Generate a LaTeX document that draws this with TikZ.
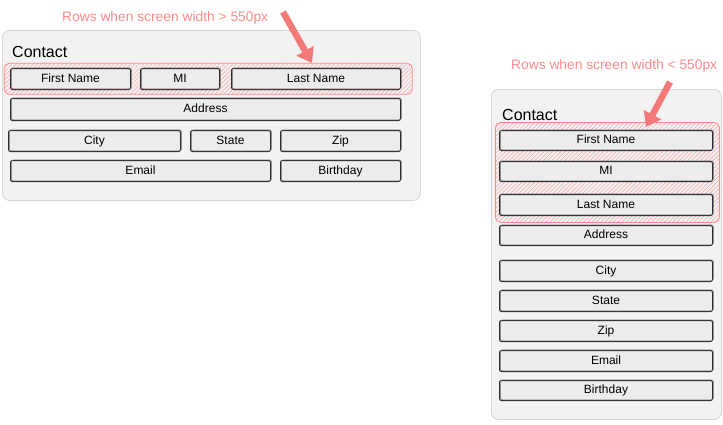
\documentclass[tikz,border=0pt]{standalone}
\usepackage{fontspec}
\setmainfont{Liberation Sans}
\usetikzlibrary{patterns.meta,arrows.meta}
\definecolor{panelfill}{HTML}{F2F2F2}
\definecolor{panelline}{HTML}{D6D6D6}
\definecolor{fieldfill}{HTML}{ECECEC}
\definecolor{fieldline}{HTML}{2E2E2E}
\definecolor{hlred}{HTML}{FF8A8A}
\definecolor{arrred}{HTML}{F47A7A}
\tikzset{
  panel/.style={draw=panelline, fill=panelfill, rounded corners=7pt, line width=0.8pt},
  field/.style={draw=fieldline, fill=fieldfill, rounded corners=2pt, line width=1pt, inner sep=0pt,
    text height=8.6pt, text depth=2.4pt, font=\fontsize{12}{14}\selectfont,
    postaction={draw=fieldline!70, line width=0.5pt, transform canvas={shift={(0.9pt,0.7pt)}}}},
  hilite/.style={draw=hlred, rounded corners=5pt, line width=0.8pt,
    pattern={Lines[angle=45,distance=3pt,line width=0.5pt]}, pattern color=hlred!80},
  titletext/.style={anchor=base west, inner sep=0pt, font=\fontsize{16}{18}\selectfont},
  notetext/.style={anchor=base west, inner sep=0pt, text=hlred, font=\fontsize{13.8}{16}\selectfont},
  bigarrow/.style={draw=arrred, line width=6.5pt, -{Triangle[width=19pt,length=14pt]}}
}
\begin{document}
\begin{tikzpicture}[x=1pt,y=-1pt]
\useasboundingbox (0,0) rectangle (723,424);
% ---------- left panel ----------
\node[panel, minimum width=418pt, minimum height=170pt, anchor=north west, inner sep=0pt] (lp) at (2,30) {};
\node[titletext] (lt) at (12,57) {Contact};
\node[hilite, minimum width=408pt, minimum height=31pt, anchor=north west] (lh) at (4,63) {};
\node[field, minimum width=120pt, minimum height=21pt, anchor=north west] (lfn) at (10,68) {First Name};
\node[field, minimum width=79pt, minimum height=21pt, anchor=north west] (lmi) at (140,68) {MI};
\node[field, minimum width=169pt, minimum height=21pt, anchor=north west] (lln) at (231,68) {Last Name};
\node[field, minimum width=390pt, minimum height=22pt, anchor=north west] (lad) at (10,98) {Address};
\node[field, minimum width=172pt, minimum height=21pt, anchor=north west] (lci) at (8,130) {City};
\node[field, minimum width=80pt, minimum height=21pt, anchor=north west] (lst) at (190,130) {State};
\node[field, minimum width=120pt, minimum height=21pt, anchor=north west] (lzi) at (280,130) {Zip};
\node[field, minimum width=260pt, minimum height=21pt, anchor=north west] (lem) at (10,160) {Email};
\node[field, minimum width=120pt, minimum height=21pt, anchor=north west] (lbi) at (280,160) {Birthday};
\node[notetext] (ln) at (62,21) {Rows when screen width > 550px};
\coordinate (la0) at (283,12);
\coordinate (la1) at (312,63);
\draw[bigarrow] (la0) -- (la1);
% ---------- right panel ----------
\node[panel, minimum width=230pt, minimum height=330pt, anchor=north west, inner sep=0pt] (rp) at (491,89) {};
\node[titletext] (rt) at (502,120) {Contact};
\node[hilite, minimum width=224pt, minimum height=100pt, anchor=north west] (rh) at (495,122) {};
\node[field, minimum width=213pt, minimum height=20pt, anchor=north west] (rfn) at (499,130) {First Name};
\node[field, minimum width=213pt, minimum height=20pt, anchor=north west] (rmi) at (499,161) {MI};
\node[field, minimum width=213pt, minimum height=21pt, anchor=north west] (rln) at (499,194) {Last Name};
\node[field, minimum width=213pt, minimum height=20pt, anchor=north west] (rad) at (499,225) {Address};
\node[field, minimum width=213pt, minimum height=21pt, anchor=north west] (rci) at (499,260) {City};
\node[field, minimum width=213pt, minimum height=21pt, anchor=north west] (rst) at (499,290) {State};
\node[field, minimum width=213pt, minimum height=21pt, anchor=north west] (rzi) at (499,320) {Zip};
\node[field, minimum width=213pt, minimum height=21pt, anchor=north west] (rem) at (499,350) {Email};
\node[field, minimum width=213pt, minimum height=20pt, anchor=north west] (rbi) at (499,380) {Birthday};
\node[notetext] (rn) at (511,69) {Rows when screen width < 550px};
\coordinate (ra0) at (670,82);
\coordinate (ra1) at (646,127);
\draw[bigarrow] (ra0) -- (ra1);
\end{tikzpicture}
\end{document}
